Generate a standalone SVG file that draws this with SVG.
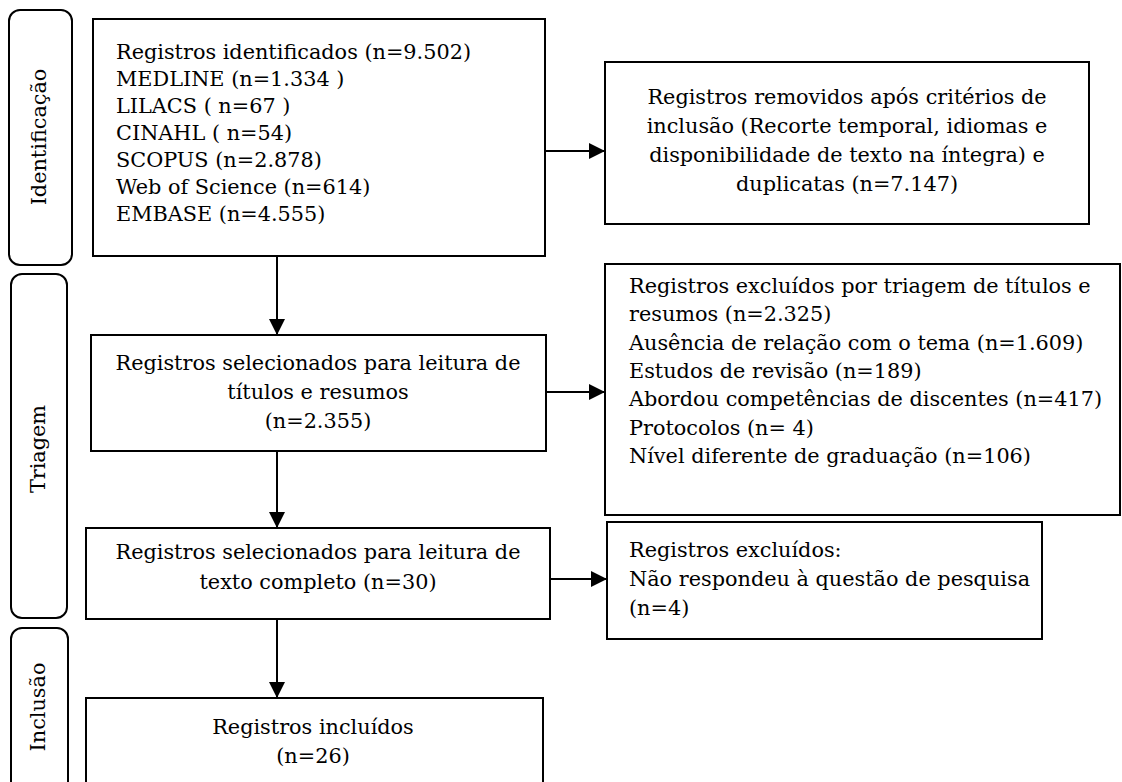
<svg xmlns="http://www.w3.org/2000/svg" width="1122" height="782" viewBox="0 0 1122 782">
  <style>
    .box { fill: #ffffff; stroke: #000000; stroke-width: 2; }
    .phase { fill: #ffffff; stroke: #000000; stroke-width: 2; }
    .t { font-family: "DejaVu Serif", "Liberation Serif", serif; font-size: 20.8px; fill: #000000; }
    .c { text-anchor: middle; }
    .conn { stroke: #000000; stroke-width: 2; fill: none; marker-end: url(#ah); }
  </style>
  <defs>
    <marker id="ah" markerUnits="userSpaceOnUse" markerWidth="16" markerHeight="16" refX="16" refY="8" orient="auto">
      <path d="M0,0 L16,8 L0,16 Z" fill="#000000"/>
    </marker>
  </defs>
  <rect width="1122" height="782" fill="#ffffff"/>

  <g id="phase-identificacao">
    <rect class="phase" x="9" y="10" width="63" height="255" rx="11"/>
    <text class="t c" transform="translate(39,137) rotate(-90)" y="7">Identificação</text>
  </g>
  <g id="phase-triagem">
    <rect class="phase" x="11" y="274" width="56" height="344" rx="11"/>
    <text class="t c" transform="translate(38,449) rotate(-90)" y="7">Triagem</text>
  </g>
  <g id="phase-inclusao">
    <rect class="phase" x="11" y="628" width="57" height="170" rx="11"/>
    <text class="t c" transform="translate(38,707) rotate(-90)" y="7">Inclusão</text>
  </g>

  <g id="connectors">
    <line class="conn" x1="545" y1="151" x2="605" y2="151"/>
    <line class="conn" x1="277" y1="256" x2="277" y2="335"/>
    <line class="conn" x1="546" y1="392" x2="605" y2="392"/>
    <line class="conn" x1="277" y1="451" x2="277" y2="528"/>
    <line class="conn" x1="550" y1="579" x2="607" y2="579"/>
    <line class="conn" x1="277" y1="619" x2="277" y2="698"/>
  </g>

  <g id="identificados">
    <rect class="box" x="93" y="19" width="452" height="237"/>
    <text class="t" x="116" y="59">Registros identificados (n=9.502)</text>
    <text class="t" x="116" y="86">MEDLINE (n=1.334 )</text>
    <text class="t" x="116" y="113">LILACS ( n=67 )</text>
    <text class="t" x="116" y="140">CINAHL ( n=54)</text>
    <text class="t" x="116" y="167">SCOPUS (n=2.878)</text>
    <text class="t" x="116" y="194">Web of Science (n=614)</text>
    <text class="t" x="116" y="221">EMBASE (n=4.555)</text>
  </g>

  <g id="removidos">
    <rect class="box" x="605" y="62" width="484" height="162"/>
    <text class="t c" x="847" y="104">Registros removidos após critérios de</text>
    <text class="t c" x="847" y="133">inclusão (Recorte temporal, idiomas e</text>
    <text class="t c" x="847" y="162">disponibilidade de texto na íntegra) e</text>
    <text class="t c" x="847" y="191">duplicatas (n=7.147)</text>
  </g>

  <g id="selecionados-titulos">
    <rect class="box" x="91" y="335" width="455" height="116"/>
    <text class="t c" x="318" y="370">Registros selecionados para leitura de</text>
    <text class="t c" x="318" y="399">títulos e resumos</text>
    <text class="t c" x="318" y="428">(n=2.355)</text>
  </g>

  <g id="excluidos-triagem">
    <rect class="box" x="605" y="264" width="515" height="251"/>
    <text class="t" x="629" y="293">Registros excluídos por triagem de títulos e</text>
    <text class="t" x="629" y="321">resumos (n=2.325)</text>
    <text class="t" x="629" y="349.5">Ausência de relação com o tema (n=1.609)</text>
    <text class="t" x="629" y="378">Estudos de revisão (n=189)</text>
    <text class="t" x="629" y="406">Abordou competências de discentes (n=417)</text>
    <text class="t" x="629" y="434.5">Protocolos (n= 4)</text>
    <text class="t" x="629" y="463">Nível diferente de graduação (n=106)</text>
  </g>

  <g id="selecionados-texto">
    <rect class="box" x="86" y="528" width="464" height="91"/>
    <text class="t c" x="318" y="559">Registros selecionados para leitura de</text>
    <text class="t c" x="318" y="589">texto completo (n=30)</text>
  </g>

  <g id="excluidos-texto">
    <rect class="box" x="607" y="522" width="435" height="117"/>
    <text class="t" x="629" y="557">Registros excluídos:</text>
    <text class="t" x="629" y="586">Não respondeu à questão de pesquisa</text>
    <text class="t" x="629" y="615">(n=4)</text>
  </g>

  <g id="incluidos">
    <rect class="box" x="86" y="698" width="457" height="100"/>
    <text class="t c" x="313" y="734">Registros incluídos</text>
    <text class="t c" x="313" y="763">(n=26)</text>
  </g>
</svg>
